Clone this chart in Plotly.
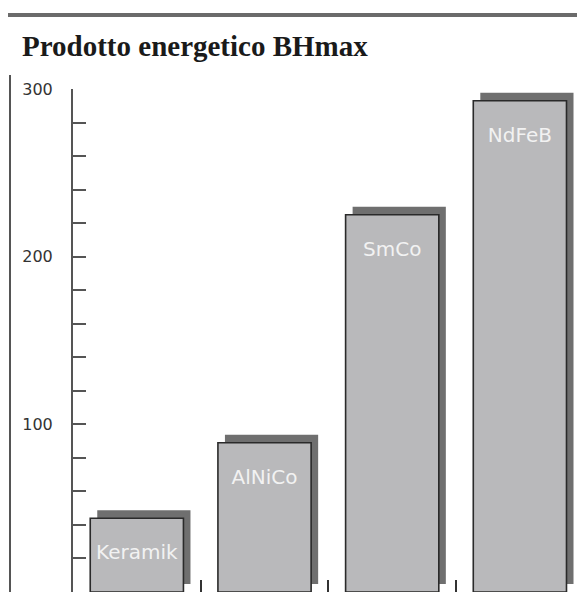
import plotly.graph_objects as go

# ---- data ----
categories = ["Keramik", "AlNiCo", "SmCo", "NdFeB"]
bhmax = [44, 89, 225, 293]
y_tick_values = [100, 200, 300]
y_tick_labels = ["100", "200", "300"]
category_boundaries = [0.5, 1.5, 2.5]
title_text = "Prodotto energetico BHmax"

# ---- layout (page body has an 8px margin, so the figure is 8px smaller) ----
W, H = 577, 584
L, T = 65, 81
BAR_W = 0.73
SHADOW_DX = 0.055   # x units
SHADOW_DY = 4.8     # y units
X_RANGE = [-0.5, 3.51]
Y_RANGE = [0, 300]

fig = go.Figure()

# drop shadows (behind)
fig.add_trace(go.Bar(
    x=categories, y=bhmax, base=SHADOW_DY,
    width=BAR_W, offset=-BAR_W / 2 + SHADOW_DX,
    marker=dict(color="#6f6f6f", line=dict(width=0)),
    hoverinfo="skip", showlegend=False,
))
# main bars
fig.add_trace(go.Bar(
    x=categories, y=bhmax,
    width=BAR_W, offset=-BAR_W / 2,
    marker=dict(color="#b9b9bb", line=dict(color="#2a2a2a", width=1.6)),
    hoverinfo="skip", showlegend=False,
))
# labels inside the bars
fig.add_trace(go.Scatter(
    x=categories, y=bhmax, text=categories,
    mode="markers+text", textposition="bottom center",
    marker=dict(size=40, opacity=0),
    textfont=dict(family="DejaVu Sans", size=20, color="#f2f2f2"),
    hoverinfo="skip", showlegend=False,
))
# helper (empty) trace for the boundary tick axis
fig.add_trace(go.Scatter(x=[], y=[], xaxis="x2", yaxis="y",
                         showlegend=False, hoverinfo="skip"))

fig.update_layout(
    width=W, height=H,
    margin=dict(l=L, r=0, t=T, b=0, pad=0),
    paper_bgcolor="white", plot_bgcolor="white",
    barmode="overlay",
    showlegend=False,
    hovermode=False,
    title=dict(
        text="<b>" + title_text + "</b>",
        font=dict(family="Liberation Serif", size=29, color="#1a1a1a"),
        x=14 / W, xref="container", xanchor="left",
        y=1 - 38 / H, yref="container", yanchor="middle",
    ),
    xaxis=dict(
        type="category", range=X_RANGE,
        showticklabels=False, ticks="", showline=False,
        showgrid=False, zeroline=False, fixedrange=True,
    ),
    xaxis2=dict(
        type="linear", overlaying="x", anchor="y", side="bottom",
        range=X_RANGE, tickmode="array", tickvals=category_boundaries,
        showticklabels=False, ticks="inside", ticklen=12, tickwidth=1.5,
        tickcolor="#333333", showline=False, showgrid=False, zeroline=False,
    ),
    yaxis=dict(
        range=Y_RANGE, tickmode="array", tickvals=y_tick_values,
        ticktext=y_tick_labels, ticks="inside", ticklen=13, tickwidth=2,
        tickcolor="#555555", showline=True, linecolor="#555555", linewidth=2,
        showgrid=False, zeroline=False,
        tickfont=dict(family="DejaVu Sans", size=16, color="#333333"),
        ticklabelstandoff=15,
        minor=dict(dtick=20, tick0=0, ticks="inside", ticklen=13,
                   tickwidth=2, tickcolor="#555555", showgrid=False),
    ),
    shapes=[
        # top rule
        dict(type="line", xref="paper", yref="paper",
             x0=(0 - L) / (W - L), x1=1.0,
             y0=1 + (T - 7) / (H - T), y1=1 + (T - 7) / (H - T),
             line=dict(color="#6b6b6b", width=4)),
        # left frame line
        dict(type="line", xref="paper", yref="paper",
             x0=(2 - L) / (W - L), x1=(2 - L) / (W - L),
             y0=0, y1=1 + (T - 67) / (H - T),
             line=dict(color="#555555", width=2)),
    ],
)

fig.write_html("out.html")
